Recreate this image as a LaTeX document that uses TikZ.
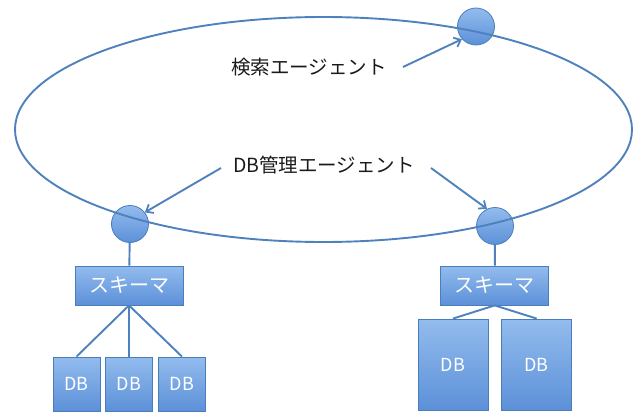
\documentclass[tikz,border=0pt]{standalone}
\usepackage{fontspec}
\newfontfamily\jp{Noto Sans CJK JP}
\usetikzlibrary{arrows.meta}
\definecolor{edge}{HTML}{4A7EBB}
\definecolor{lineblue}{HTML}{4F81BD}
\definecolor{fillTop}{HTML}{93BCEE}
\definecolor{fillBot}{HTML}{5C90D8}
\definecolor{txt}{HTML}{1A1A1A}
\begin{document}
\begin{tikzpicture}[x=1pt,y=-1pt,
  agent/.style={circle, draw=edge, line width=0.8pt, top color=fillTop, bottom color=fillBot, minimum size=37pt, inner sep=0pt},
  boxbase/.style={rectangle, draw=edge, line width=0.8pt, top color=fillTop, bottom color=fillBot, text=white, inner sep=0pt},
  schema/.style={boxbase, font=\jp\fontsize{20}{20}\selectfont, minimum width=108pt, minimum height=39pt},
  dbsmall/.style={boxbase, font=\jp\fontsize{18}{18}\selectfont, minimum width=47pt, minimum height=54pt},
  dbbig/.style={boxbase, font=\jp\fontsize{18}{18}\selectfont, minimum width=70pt, minimum height=91pt},
  lbl/.style={font=\jp\fontsize{19.5}{19.5}\selectfont, text=txt, inner sep=0pt},
  conn/.style={draw=lineblue, line width=1.9pt},
  arr/.style={conn, -{Straight Barb[length=6pt,width=10pt,line width=1.8pt]}}
]
\useasboundingbox (0,0) rectangle (641,412);

% agents
\node[agent] (c1) at (476,26.5) {};
\node[agent] (c2) at (130,224) {};
\node[agent] (c3) at (495,226) {};

% ring
\draw[lineblue, line width=1.9pt] (323.5,129.5) ellipse [x radius=308.5pt, y radius=112.5pt];

% labels
\node[lbl] (l1) at (309,67) {検索エージェント};
\node[lbl] (l2) at (324,165) {DB管理エージェント};

\coordinate (a1) at (403,67);
\coordinate (a2) at (221,168);
\coordinate (a3) at (431,168);
\draw[arr] (a1) -- (c1.222);
\draw[arr] (a2) -- (c2.38);
\draw[arr] (a3) -- (c3.115);

% schema
\node[schema] (s1) at (129,285.5) {スキーマ};
\node[schema] (s2) at (494.7,285.5) {スキーマ};

\draw[conn] (c2) -- (s1);
\draw[conn] (c3) -- (s2);

% DBs left
\node[dbsmall] (d1) at (76.5,384) {DB};
\node[dbsmall] (d2) at (129,384) {DB};
\node[dbsmall] (d3) at (182,384) {DB};
% DBs right
\node[dbbig] (d4) at (453,364.5) {DB};
\node[dbbig] (d5) at (536.7,364.5) {DB};

\draw[conn] (s1.south) -- (d1.north);
\draw[conn] (s1.south) -- (d2.north);
\draw[conn] (s1.south) -- (d3.north);
\draw[conn] (s2.south) -- (d4.north);
\draw[conn] (s2.south) -- (d5.north);
\end{tikzpicture}
\end{document}
